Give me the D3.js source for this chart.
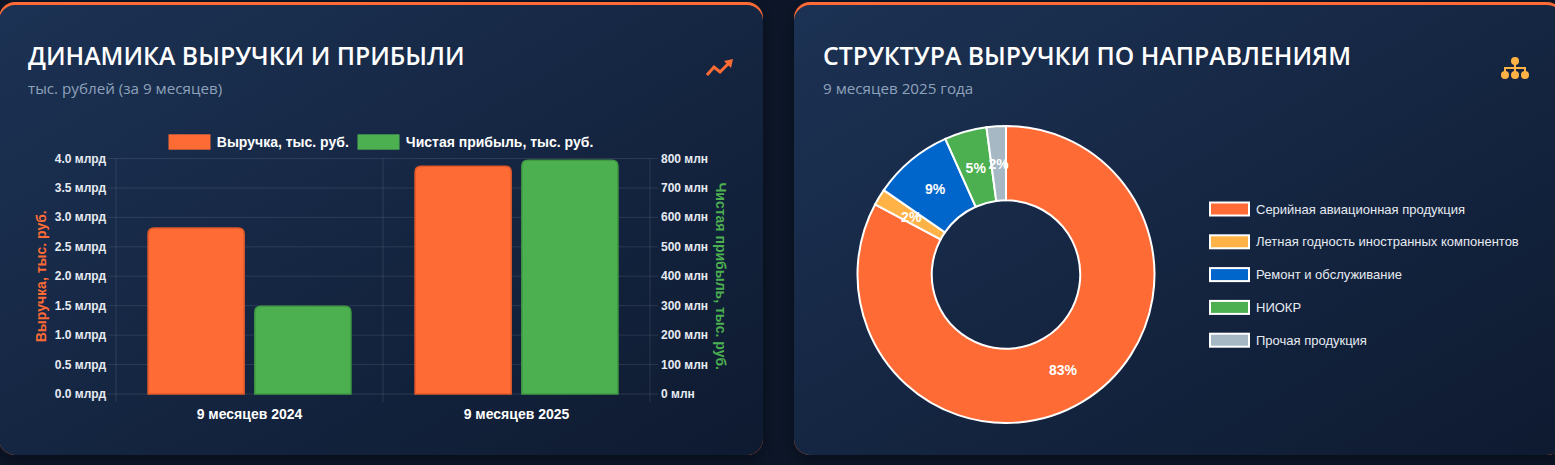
<!DOCTYPE html>
<html>
<head>
<meta charset="utf-8">
<script src="https://cdn.jsdelivr.net/npm/d3@7"></script>
<style>
  html, body { margin: 0; padding: 0; background: #0c1628; overflow: hidden; }
  svg { display: block; }
</style>
</head>
<body>
<script>
// --- data ---
var periods = ["9 месяцев 2024", "9 месяцев 2025"];
var revenue = [2.82e9, 3.87e9];
var profit = [2.985e8, 7.94e8];
var revenueTicks = [0, 0.5e9, 1e9, 1.5e9, 2e9, 2.5e9, 3e9, 3.5e9, 4e9];
var profitTicks = [0, 1e8, 2e8, 3e8, 4e8, 5e8, 6e8, 7e8, 8e8];

var segments = ["Серийная авиационная продукция", "Летная годность иностранных компонентов",
                "Ремонт и обслуживание", "НИОКР", "Прочая продукция"];
var shares = [82.9, 1.8, 8.7, 4.6, 2.1];
var segmentColors = ["#ff6b35", "#ffb347", "#0066cc", "#4caf50", "#a5b8c3"];

var width = 1555, height = 465;

var svg = d3.select("body").append("svg")
    .attr("width", width)
    .attr("height", height);

var defs = svg.append("defs");
var grad = defs.append("linearGradient")
    .attr("id", "cardGrad")
    .attr("x1", "0%").attr("y1", "0%").attr("x2", "100%").attr("y2", "100%");
grad.append("stop").attr("offset", "0%").attr("stop-color", "#1c3254");
grad.append("stop").attr("offset", "100%").attr("stop-color", "#0e1a30");

var shadow = defs.append("filter").attr("id", "shadow")
    .attr("x", "-10%").attr("y", "-10%").attr("width", "120%").attr("height", "130%");
shadow.append("feDropShadow").attr("dx", 0).attr("dy", 6).attr("stdDeviation", 8)
    .attr("flood-color", "#000").attr("flood-opacity", 0.35);

// cards
function card(x, w, title, subtitle) {
    var g = svg.append("g");
    // orange top border shows as a strip behind the card
    g.append("rect")
        .attr("x", x).attr("y", 2).attr("width", w).attr("height", 453)
        .attr("rx", 16).attr("fill", "#ff6b35").attr("filter", "url(#shadow)");
    g.append("rect")
        .attr("x", x).attr("y", 5).attr("width", w).attr("height", 450)
        .attr("rx", 16).attr("fill", "url(#cardGrad)");
    g.append("text")
        .attr("x", x + 29).attr("y", 65)
        .attr("fill", "#ffffff")
        .style("font-family", "'Open Sans', sans-serif")
        .style("font-weight", 600)
        .style("font-size", "24.8px")
        .text(title);
    g.append("text")
        .attr("x", x + 29).attr("y", 94)
        .attr("fill", "#8fa2bb")
        .style("font-family", "'Open Sans', sans-serif")
        .style("font-size", "15.2px")
        .text(subtitle);
    return g;
}
card(-1, 764, "ДИНАМИКА ВЫРУЧКИ И ПРИБЫЛИ", "тыс. рублей (за 9 месяцев)");
card(794, 769, "СТРУКТУРА ВЫРУЧКИ ПО НАПРАВЛЕНИЯМ", "9 месяцев 2025 года");

// icons
svg.append("polyline")
    .attr("points", "707,75 714,67 720,72 730,62")
    .attr("fill", "none").attr("stroke", "#ff6b35").attr("stroke-width", 3)
    .attr("stroke-linejoin", "miter");
svg.append("polygon")
    .attr("points", "724,61 733,59 731,68")
    .attr("fill", "#ff6b35");

var icon = svg.append("g").attr("fill", "#ffb347").attr("stroke", "#ffb347");
icon.append("path")
    .attr("d", "M1515,61 V68 M1505,75 V68 H1525 V75 M1515,68 V75")
    .attr("fill", "none").attr("stroke-width", 2);
icon.selectAll("circle")
    .data([[1515, 61], [1505, 75], [1515, 75], [1525, 75]])
    .enter().append("circle")
    .attr("cx", function(d) { return d[0]; })
    .attr("cy", function(d) { return d[1]; })
    .attr("r", 4).attr("stroke", "none");

// ---------------- BAR CHART ----------------
var plotLeft = 116, plotRight = 650, plotTop = 158.5, plotBottom = 394;
var chartFont = "'Liberation Sans', Arial, sans-serif";
var gridColor = "rgba(255,255,255,0.1)";

var x0 = d3.scaleBand().domain(periods).range([plotLeft, plotRight]);
var x1 = d3.scaleBand().domain(["revenue", "profit"])
    .range([x0.bandwidth() * 0.1, x0.bandwidth() * 0.9])
    .paddingInner(0.1).paddingOuter(0.05);
var yRev = d3.scaleLinear().domain([0, 4e9]).range([plotBottom, plotTop]);
var yProf = d3.scaleLinear().domain([0, 8e8]).range([plotBottom, plotTop]);

var chart = svg.append("g");

// horizontal grid + tick marks
chart.selectAll("line.hgrid")
    .data(revenueTicks)
    .enter().append("line")
    .attr("x1", plotLeft - 8).attr("x2", plotRight + 8)
    .attr("y1", function(d) { return yRev(d); })
    .attr("y2", function(d) { return yRev(d); })
    .attr("stroke", gridColor);

// vertical grid at category boundaries
var bounds = periods.map(function(p) { return x0(p); }).concat([plotRight]);
chart.selectAll("line.vgrid")
    .data(bounds)
    .enter().append("line")
    .attr("x1", function(d) { return d; }).attr("x2", function(d) { return d; })
    .attr("y1", plotTop).attr("y2", plotBottom + 8)
    .attr("stroke", gridColor);

// tick labels
chart.selectAll("text.ly")
    .data(revenueTicks)
    .enter().append("text")
    .attr("x", 106).attr("y", function(d) { return yRev(d) + 4; })
    .attr("text-anchor", "end")
    .attr("fill", "#e6ebf2")
    .style("font-family", chartFont).style("font-weight", "bold").style("font-size", "12px")
    .text(function(d) { return (d / 1e9).toFixed(1) + " млрд"; });

chart.selectAll("text.ry")
    .data(profitTicks)
    .enter().append("text")
    .attr("x", 661).attr("y", function(d) { return yProf(d) + 4; })
    .attr("fill", "#e6ebf2")
    .style("font-family", chartFont).style("font-weight", "bold").style("font-size", "12px")
    .text(function(d) { return (d / 1e6) + " млн"; });

chart.selectAll("text.cat")
    .data(periods)
    .enter().append("text")
    .attr("x", function(d) { return x0(d) + x0.bandwidth() / 2; })
    .attr("y", 419)
    .attr("text-anchor", "middle")
    .attr("fill", "#ffffff")
    .style("font-family", chartFont).style("font-weight", "bold").style("font-size", "14px")
    .text(function(d) { return d; });

// axis titles
chart.append("text")
    .attr("transform", "translate(46," + ((plotTop + plotBottom) / 2) + ") rotate(-90)")
    .attr("text-anchor", "middle")
    .attr("fill", "#ff6b35")
    .style("font-family", chartFont).style("font-size", "14px").style("font-weight", "bold")
    .text("Выручка, тыс. руб.");
chart.append("text")
    .attr("transform", "translate(716," + ((plotTop + plotBottom) / 2) + ") rotate(90)")
    .attr("text-anchor", "middle")
    .attr("fill", "#4caf50")
    .style("font-family", chartFont).style("font-size", "14px").style("font-weight", "bold")
    .text("Чистая прибыль, тыс. руб.");

// bars with rounded top corners
function barPath(x, w, yTop, yBase, r) {
    r = Math.min(r, (yBase - yTop), w / 2);
    return "M" + x + "," + yBase +
        "V" + (yTop + r) +
        "Q" + x + "," + yTop + " " + (x + r) + "," + yTop +
        "H" + (x + w - r) +
        "Q" + (x + w) + "," + yTop + " " + (x + w) + "," + (yTop + r) +
        "V" + yBase + "Z";
}

var barData = [];
periods.forEach(function(p, i) {
    barData.push({ p: p, key: "revenue", y: yRev(revenue[i]), fill: "#ff6b35", stroke: "#e0582a" });
    barData.push({ p: p, key: "profit", y: yProf(profit[i]), fill: "#4caf50", stroke: "#3e9942" });
});

chart.selectAll("path.bar")
    .data(barData)
    .enter().append("path")
    .attr("d", function(d) {
        return barPath(x0(d.p) + x1(d.key), x1.bandwidth(), d.y, plotBottom, 6);
    })
    .attr("fill", function(d) { return d.fill; })
    .attr("stroke", function(d) { return d.stroke; })
    .attr("stroke-width", 1.5);

// legend
var legendItems = [
    { label: "Выручка, тыс. руб.", color: "#ff6b35", x: 168.5 },
    { label: "Чистая прибыль, тыс. руб.", color: "#4caf50", x: 357.5 }
];
var lg = chart.selectAll("g.legend")
    .data(legendItems)
    .enter().append("g");
lg.append("rect")
    .attr("x", function(d) { return d.x; }).attr("y", 134.3)
    .attr("width", 42).attr("height", 15.4)
    .attr("fill", function(d) { return d.color; });
lg.append("text")
    .attr("x", function(d) { return d.x + 48.3; }).attr("y", 146.5)
    .attr("fill", "#ffffff")
    .style("font-family", chartFont).style("font-weight", "bold").style("font-size", "14px")
    .text(function(d) { return d.label; });

// ---------------- DONUT ----------------
var cx = 1006, cy = 274.5, outerR = 148.5, innerR = 74.25;
var pie = d3.pie().sort(null).value(function(d) { return d; });
var arc = d3.arc().innerRadius(innerR).outerRadius(outerR);
var labelArc = d3.arc().innerRadius(111).outerRadius(111);

var donut = svg.append("g").attr("transform", "translate(" + cx + "," + cy + ")");
var arcs = pie(shares);

donut.selectAll("path")
    .data(arcs)
    .enter().append("path")
    .attr("d", arc)
    .attr("fill", function(d, i) { return segmentColors[i]; })
    .attr("stroke", "#ffffff")
    .attr("stroke-width", 2);

donut.selectAll("text")
    .data(arcs)
    .enter().append("text")
    .attr("transform", function(d) { return "translate(" + labelArc.centroid(d) + ")"; })
    .attr("text-anchor", "middle")
    .attr("dy", "0.35em")
    .attr("fill", "#ffffff")
    .style("font-family", chartFont).style("font-weight", "bold").style("font-size", "14px")
    .text(function(d) { return Math.round(d.data) + "%"; });

var dl = svg.selectAll("g.dlegend")
    .data(segments)
    .enter().append("g")
    .attr("transform", function(d, i) { return "translate(1209," + (209 + i * 32.8) + ")"; });
dl.append("rect")
    .attr("x", 1).attr("y", -6.5)
    .attr("width", 39).attr("height", 13)
    .attr("fill", function(d, i) { return segmentColors[i]; })
    .attr("stroke", "#ffffff").attr("stroke-width", 2);
dl.append("text")
    .attr("x", 47).attr("y", 4.5)
    .attr("fill", "#e6ebf2")
    .style("font-family", chartFont).style("font-size", "13px")
    .text(function(d) { return d; });
</script>
</body>
</html>
